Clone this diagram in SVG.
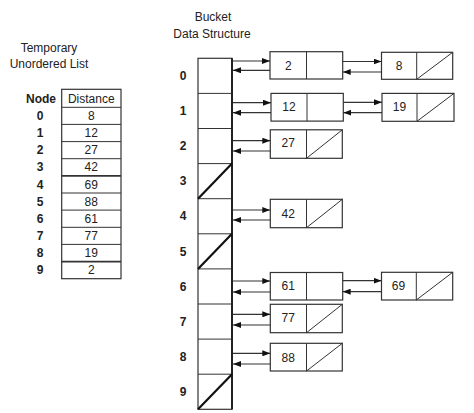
<svg xmlns="http://www.w3.org/2000/svg" width="474" height="413" viewBox="0 0 474 413">
<style>
text{font-family:"Liberation Sans",Arial,sans-serif;font-size:12px;fill:#222;text-anchor:middle}
.b{font-weight:bold}
.box{fill:#fff;stroke:#333;stroke-width:1.2}
.thin{stroke:#333;stroke-width:1;fill:none}
.null{stroke:#111;stroke-width:2.2;fill:none}
.c{stroke:#333;stroke-width:1.2;fill:none;marker-end:url(#ah)}
</style>
<defs>
<marker id="ah" viewBox="0 0 8 6" refX="8" refY="3" markerWidth="8" markerHeight="6" markerUnits="userSpaceOnUse" orient="auto">
<path d="M0,0L8,3L0,6z" fill="#111"/>
</marker>
</defs>
<rect width="474" height="413" fill="#fff"/>

<g id="titles">
<text x="49" y="52">Temporary</text>
<text x="49" y="68">Unordered List</text>
<text x="213" y="21">Bucket</text>
<text x="212" y="38">Data Structure</text>
</g>

<g id="unordered-list">
<text class="b" x="41" y="102.5">Node</text>
<rect class="box" x="61.7" y="89.3" width="59.3" height="189.4"/>
<text x="91.3" y="102.5">Distance</text>
<g class="thin">
<line x1="61.7" y1="107.3" x2="121" y2="107.3"/>
<line x1="61.7" y1="124.4" x2="121" y2="124.4"/>
<line x1="61.7" y1="141.6" x2="121" y2="141.6"/>
<line x1="61.7" y1="158.7" x2="121" y2="158.7"/>
<line x1="61.7" y1="175.9" x2="121" y2="175.9" stroke-width="1.6"/>
<line x1="61.7" y1="193.0" x2="121" y2="193.0"/>
<line x1="61.7" y1="210.1" x2="121" y2="210.1"/>
<line x1="61.7" y1="227.3" x2="121" y2="227.3"/>
<line x1="61.7" y1="244.4" x2="121" y2="244.4"/>
<line x1="61.7" y1="261.6" x2="121" y2="261.6" stroke-width="1.6"/>
</g>
<text class="b" x="40" y="120">0</text><text x="91.3" y="120">8</text>
<text class="b" x="40" y="137.1">1</text><text x="91.3" y="137.1">12</text>
<text class="b" x="40" y="154.3">2</text><text x="91.3" y="154.3">27</text>
<text class="b" x="40" y="171.4">3</text><text x="91.3" y="171.4">42</text>
<text class="b" x="40" y="188.6">4</text><text x="91.3" y="188.6">69</text>
<text class="b" x="40" y="205.7">5</text><text x="91.3" y="205.7">88</text>
<text class="b" x="40" y="222.9">6</text><text x="91.3" y="222.9">61</text>
<text class="b" x="40" y="240">7</text><text x="91.3" y="240">77</text>
<text class="b" x="40" y="257.2">8</text><text x="91.3" y="257.2">19</text>
<text class="b" x="40" y="274.3">9</text><text x="91.3" y="274.3">2</text>
</g>

<g id="bucket">
<rect class="box" x="198" y="58.3" width="34" height="351"/>
<g class="thin">
<line x1="198" y1="93.4" x2="232" y2="93.4"/>
<line x1="198" y1="128.5" x2="232" y2="128.5"/>
<line x1="198" y1="163.6" x2="232" y2="163.6"/>
<line x1="198" y1="198.7" x2="232" y2="198.7"/>
<line x1="198" y1="233.8" x2="232" y2="233.8"/>
<line x1="198" y1="268.9" x2="232" y2="268.9"/>
<line x1="198" y1="304.0" x2="232" y2="304.0"/>
<line x1="198" y1="339.1" x2="232" y2="339.1"/>
<line x1="198" y1="374.2" x2="232" y2="374.2"/>
</g>
<line x1="232" y1="58.3" x2="232" y2="409.3" stroke="#222" stroke-width="2"/>
<line class="null" x1="198" y1="198.7" x2="232" y2="163.6"/>
<line class="null" x1="198" y1="268.9" x2="232" y2="233.8"/>
<line class="null" x1="198" y1="409.3" x2="232" y2="374.2"/>
<text class="b" x="183" y="80">0</text>
<text class="b" x="183" y="115.1">1</text>
<text class="b" x="183" y="150.2">2</text>
<text class="b" x="183" y="185.3">3</text>
<text class="b" x="183" y="220.4">4</text>
<text class="b" x="183" y="255.5">5</text>
<text class="b" x="183" y="290.6">6</text>
<text class="b" x="183" y="325.7">7</text>
<text class="b" x="183" y="360.8">8</text>
<text class="b" x="183" y="395.9">9</text>
</g>

<g id="node-2">
<rect class="box" x="270" y="51.7" width="72.7" height="27.3"/>
<line class="thin" x1="306.5" y1="51.7" x2="306.5" y2="79"/>
<text x="288.3" y="69.5">2</text>
</g>
<g id="node-8">
<rect class="box" x="381.5" y="52.3" width="71.2" height="27"/>
<line class="thin" x1="416.7" y1="52.3" x2="416.7" y2="79.3"/>
<line class="thin" x1="416.7" y1="79.3" x2="452.7" y2="52.3"/>
<text x="399" y="70">8</text>
</g>
<g id="node-12">
<rect class="box" x="271" y="93.4" width="72.3" height="27.7"/>
<line class="thin" x1="307" y1="93.4" x2="307" y2="121.1"/>
<text x="289" y="111.4">12</text>
</g>
<g id="node-19">
<rect class="box" x="382" y="93.4" width="72" height="27.9"/>
<line class="thin" x1="417" y1="93.4" x2="417" y2="121.3"/>
<line class="thin" x1="417" y1="121.3" x2="454" y2="93.4"/>
<text x="399.5" y="111.4">19</text>
</g>
<g id="node-27">
<rect class="box" x="270.3" y="129.8" width="72" height="28.5"/>
<line class="thin" x1="306.5" y1="129.8" x2="306.5" y2="158.3"/>
<line class="thin" x1="306.5" y1="158.3" x2="342.3" y2="129.8"/>
<text x="288.3" y="147">27</text>
</g>
<g id="node-42">
<rect class="box" x="270.3" y="199.3" width="72" height="28.4"/>
<line class="thin" x1="306.5" y1="199.3" x2="306.5" y2="227.7"/>
<line class="thin" x1="306.5" y1="227.7" x2="342.3" y2="199.3"/>
<text x="288.3" y="217.5">42</text>
</g>
<g id="node-61">
<rect class="box" x="270.3" y="272.5" width="72.4" height="27.5"/>
<line class="thin" x1="306.5" y1="272.5" x2="306.5" y2="300"/>
<text x="288.3" y="290">61</text>
</g>
<g id="node-69">
<rect class="box" x="381.5" y="272.3" width="71.2" height="27.7"/>
<line class="thin" x1="416.3" y1="272.3" x2="416.3" y2="300"/>
<line class="thin" x1="416.3" y1="300" x2="452.7" y2="272.3"/>
<text x="398.5" y="290">69</text>
</g>
<g id="node-77">
<rect class="box" x="270.3" y="304.3" width="72" height="28.4"/>
<line class="thin" x1="306.5" y1="304.3" x2="306.5" y2="332.7"/>
<line class="thin" x1="306.5" y1="332.7" x2="342.3" y2="304.3"/>
<text x="288.3" y="322">77</text>
</g>
<g id="node-88">
<rect class="box" x="270.3" y="343.3" width="72" height="27.7"/>
<line class="thin" x1="306.5" y1="343.3" x2="306.5" y2="371"/>
<line class="thin" x1="306.5" y1="371" x2="342.3" y2="343.3"/>
<text x="288.3" y="361.5">88</text>
</g>

<g id="connectors">
<line class="c" x1="233" y1="61" x2="270" y2="61"/>
<line class="c" x1="270" y1="70.3" x2="233" y2="70.3"/>
<line class="c" x1="342.7" y1="61.5" x2="381.5" y2="61.5"/>
<line class="c" x1="381.5" y1="72" x2="342.7" y2="72"/>
<line class="c" x1="233" y1="102.7" x2="271" y2="102.7"/>
<line class="c" x1="271" y1="112.7" x2="233" y2="112.7"/>
<line class="c" x1="343.3" y1="102.3" x2="382" y2="102.3"/>
<line class="c" x1="382" y1="112.7" x2="343.3" y2="112.7"/>
<line class="c" x1="233" y1="140.7" x2="270.3" y2="140.7"/>
<line class="c" x1="270.3" y1="151" x2="233" y2="151"/>
<line class="c" x1="233" y1="210" x2="270.3" y2="210"/>
<line class="c" x1="270.3" y1="220" x2="233" y2="220"/>
<line class="c" x1="233" y1="281" x2="270.3" y2="281"/>
<line class="c" x1="270.3" y1="292" x2="233" y2="292"/>
<line class="c" x1="342.7" y1="280.7" x2="381.5" y2="280.7"/>
<line class="c" x1="381.5" y1="291.7" x2="342.7" y2="291.7"/>
<line class="c" x1="233" y1="314.3" x2="270.3" y2="314.3"/>
<line class="c" x1="270.3" y1="325" x2="233" y2="325"/>
<line class="c" x1="233" y1="353.3" x2="270.3" y2="353.3"/>
<line class="c" x1="270.3" y1="364" x2="233" y2="364"/>
</g>
</svg>
